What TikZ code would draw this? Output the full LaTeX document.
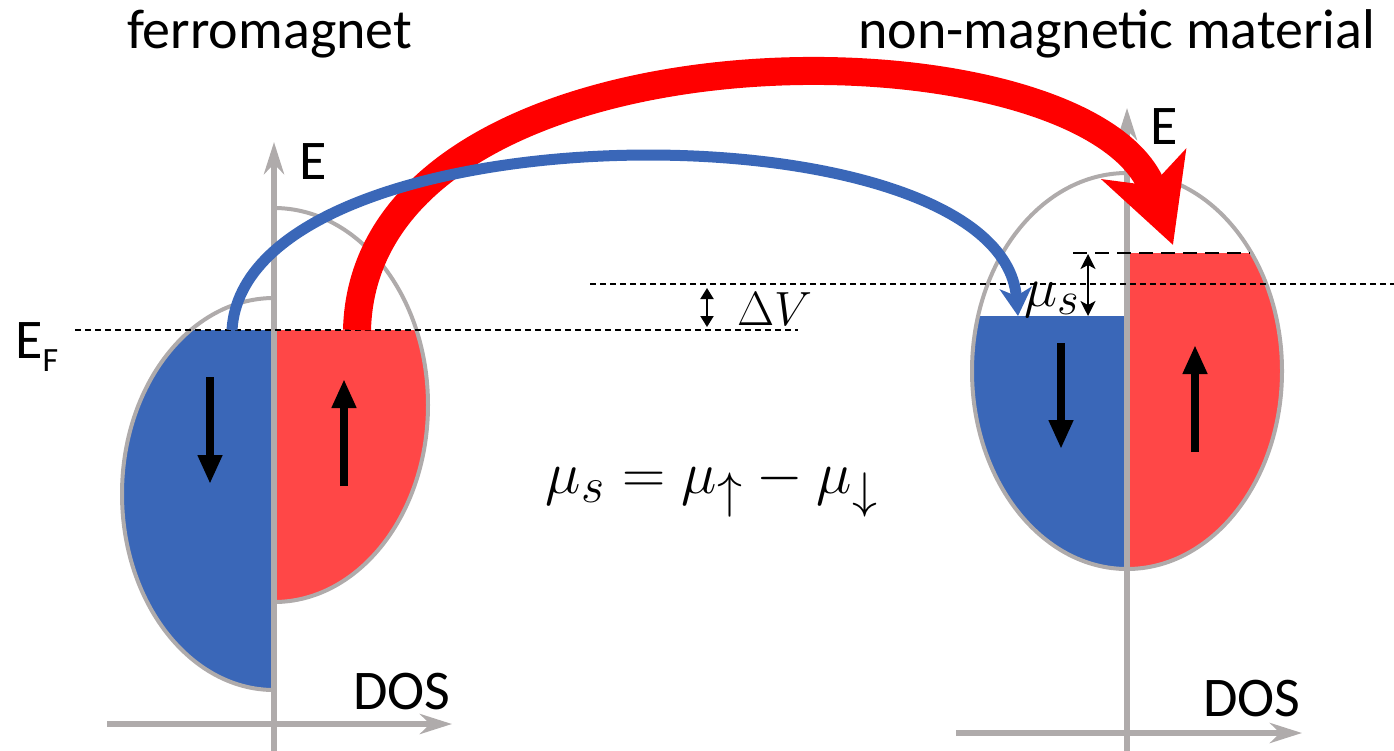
\documentclass[tikz,border=0pt]{standalone}
\usepackage{graphicx}
\usepackage{fontspec}
\setmainfont{Carlito}
\usetikzlibrary{arrows.meta}
\definecolor{axgray}{RGB}{175,171,171}
\definecolor{spinblue}{RGB}{58,103,184}
\definecolor{spinred}{RGB}{255,71,71}
\definecolor{arrred}{RGB}{255,0,0}
\tikzset{
  axisline/.style={draw=axgray, line width=6pt, -{Stealth[width=20pt,length=32pt,inset=10pt]}},
  outline/.style={draw=axgray, line width=4pt},
  thindash/.style={draw=black, line width=1.2pt, dash pattern=on 6pt off 4pt},
  thickdash/.style={draw=black, line width=2.6pt, dash pattern=on 14pt off 8pt},
  spinarrow/.style={draw=black, line width=8pt, -{Triangle[width=23pt,length=29pt]}},
  dblarrow/.style={draw=black, line width=2pt, {Triangle[width=13pt,length=11pt]}-{Triangle[width=13pt,length=11pt]}},
  dblarrowb/.style={draw=black, line width=2pt, {Stealth[width=15pt,length=15pt,inset=4pt]}-{Stealth[width=15pt,length=15pt,inset=4pt]}},
  bluecurve/.style={draw=spinblue, line width=11pt, -{Stealth[width=32pt,length=28pt,inset=8pt]}},
  redcurve/.style={draw=arrred, line width=28pt, -{Stealth[width=88pt,length=85pt,inset=22pt]}},
  bigtxt/.style={font=\fontsize{56}{62}\selectfont, inner sep=0pt, anchor=base west},
  mathtxt/.style={inner sep=0pt, anchor=base west}
}
\begin{document}
\begin{tikzpicture}[x=1pt,y=-1pt]
\useasboundingbox (0,0) rectangle (1394,750);

% ---- left DOS (ferromagnet) ----
\begin{scope}
  \clip (0,330) rectangle (274,750);
  \fill[spinblue] (274,494) ellipse [x radius=152pt, y radius=196pt];
\end{scope}
\begin{scope}
  \clip (274,330) rectangle (700,750);
  \fill[spinred] (274,405) ellipse [x radius=154pt, y radius=197pt];
\end{scope}
\begin{scope}
  \clip (0,0) rectangle (274,750);
  \draw[outline] (274,494) ellipse [x radius=152pt, y radius=196pt];
\end{scope}
\begin{scope}
  \clip (274,0) rectangle (700,750);
  \draw[outline] (274,405) ellipse [x radius=154pt, y radius=197pt];
\end{scope}

% ---- right DOS (non-magnetic) ----
\begin{scope}
  \clip (900,316) rectangle (1127,750);
  \fill[spinblue] (1127,371) ellipse [x radius=155pt, y radius=198pt];
\end{scope}
\begin{scope}
  \clip (1127,253) rectangle (1394,750);
  \fill[spinred] (1127,371) ellipse [x radius=155pt, y radius=198pt];
\end{scope}
\draw[outline] (1127,371) ellipse [x radius=155pt, y radius=198pt];

% ---- axes ----
\coordinate (lvb) at (274,752);
\coordinate (lvt) at (274,142);
\coordinate (lhl) at (107,724);
\coordinate (lhr) at (452,724);
\coordinate (rvb) at (1127,752);
\coordinate (rvt) at (1127,108);
\coordinate (rhl) at (956,733);
\coordinate (rhr) at (1302,733);
\draw[axisline] (lvb) -- (lvt);
\draw[axisline] (lhl) -- (lhr);
\draw[axisline] (rvb) -- (rvt);
\draw[axisline] (rhl) -- (rhr);

% ---- dashed levels ----
\coordinate (efa) at (75,330);
\coordinate (efb) at (798,330);
\coordinate (nma) at (590,284);
\coordinate (nmb) at (1394,284);
\coordinate (mua) at (1073,253);
\coordinate (mub) at (1250,253);
\draw[thindash] (efa) -- (efb);
\draw[thindash] (nma) -- (nmb);
\draw[thickdash] (mua) -- (mub);

% ---- small double arrows ----
\coordinate (dva) at (707,288);
\coordinate (dvb) at (707,327);
\draw[dblarrow] (dva) -- (dvb);
\coordinate (msa) at (1088,254);
\coordinate (msb) at (1088,316);
\draw[dblarrowb] (msa) -- (msb);

% ---- spin arrows ----
\coordinate (s1a) at (210,377);
\coordinate (s1b) at (210,484);
\coordinate (s2a) at (344,486);
\coordinate (s2b) at (344,379);
\coordinate (s3a) at (1061,343);
\coordinate (s3b) at (1061,449);
\coordinate (s4a) at (1195,452);
\coordinate (s4b) at (1195,345);
\draw[spinarrow] (s1a) -- (s1b);
\draw[spinarrow] (s2a) -- (s2b);
\draw[spinarrow] (s3a) -- (s3b);
\draw[spinarrow] (s4a) -- (s4b);

% ---- transfer arrows ----
\coordinate (rstart) at (357,330);
\coordinate (rend) at (1173,245);
\draw[redcurve] (rstart) .. controls (365,10) and (1090,15) .. (rend);
\coordinate (bstart) at (232,330);
\coordinate (bend) at (1018,316);
\draw[bluecurve] (bstart) .. controls (245,105) and (1000,100) .. (bend);

% ---- labels ----
\node[bigtxt] (tfm) at (127,48) {ferromagnet};
\node[bigtxt] (tnm) at (858,48) {non-magnetic material};
\node[bigtxt] (tel) at (299,179) {E};
\node[bigtxt] (ter) at (1150,144) {E};
\node[bigtxt] (tdl) at (353,709) {DOS};
\node[bigtxt] (tdr) at (1203,716) {DOS};
\node[bigtxt] (tef) at (15,358) {E\raisebox{-13pt}{\fontsize{34}{36}\selectfont F}};
\node[mathtxt] (tdv) at (737,325) {\scalebox{1.93}{\Huge$\Delta V$}};
\node[mathtxt] (tms) at (1024,306) {\scalebox{2.25}{\Huge$\mu_s$}};
\node[inner sep=0pt, anchor=base] (teq) at (712,493) {\scalebox{2.41}{\Huge$\mu_s=\mu_\uparrow-\mu_\downarrow$}};
\end{tikzpicture}
\end{document}
